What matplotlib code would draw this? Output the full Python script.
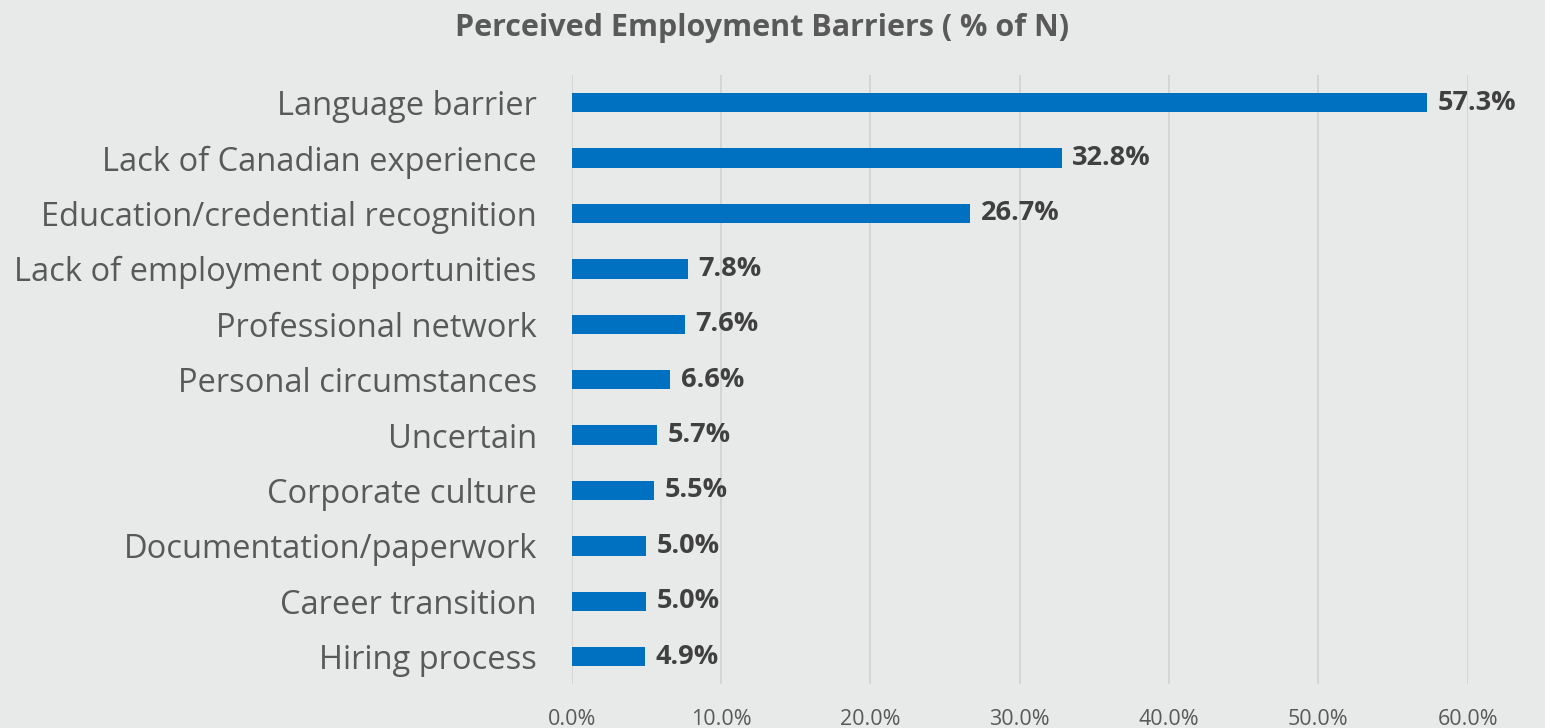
import matplotlib.pyplot as plt

plt.rcParams['font.family'] = ['Open Sans', 'DejaVu Sans']

# barrier categories, top to bottom
barriers = ['Language barrier', 'Lack of Canadian experience', 'Education/credential recognition',
            'Lack of employment opportunities', 'Professional network', 'Personal circumstances',
            'Uncertain', 'Corporate culture', 'Documentation/paperwork', 'Career transition',
            'Hiring process']
share = [57.3, 32.8, 26.7, 7.8, 7.6, 6.6, 5.7, 5.5, 5.0, 5.0, 4.9]
x_ticks = [0, 10, 20, 30, 40, 50, 60]

bg = '#E8EAE9'
fig = plt.figure(figsize=(15.45, 7.28), dpi=100, facecolor=bg)
ax = fig.add_axes([0.370, 0.060, 0.580, 0.837], facecolor=bg)

pos = list(range(len(barriers)))[::-1]
ax.barh(pos, share, height=0.35, color='#0070C0', zorder=3)

for y, v in zip(pos, share):
    ax.text(v + 0.7, y, f'{v:.1f}%', va='center', ha='left',
            fontsize=19.5, fontweight='bold', color='#404040')

ax.set_xlim(0, 60)
ax.set_ylim(-0.5, len(barriers) - 0.5)
ax.set_xticks(x_ticks)
ax.set_xticklabels([f'{t:.1f}%' for t in x_ticks], fontsize=15.5, color='#595959')
ax.set_yticks(pos)
ax.set_yticklabels(barriers, fontsize=23.5, color='#595959')
ax.tick_params(length=0)
ax.tick_params(axis='y', pad=25)
ax.tick_params(axis='x', pad=18)
ax.grid(axis='x', color='#D0D2D1', linewidth=1.2, zorder=0)
for s in ax.spines.values():
    s.set_visible(False)

fig.text(0.493, 0.962, 'Perceived Employment Barriers ( % of N)', ha='center', va='center',
         fontsize=22, fontweight='bold', color='#595959')

fig.savefig('out.png', dpi=100, facecolor=bg)
